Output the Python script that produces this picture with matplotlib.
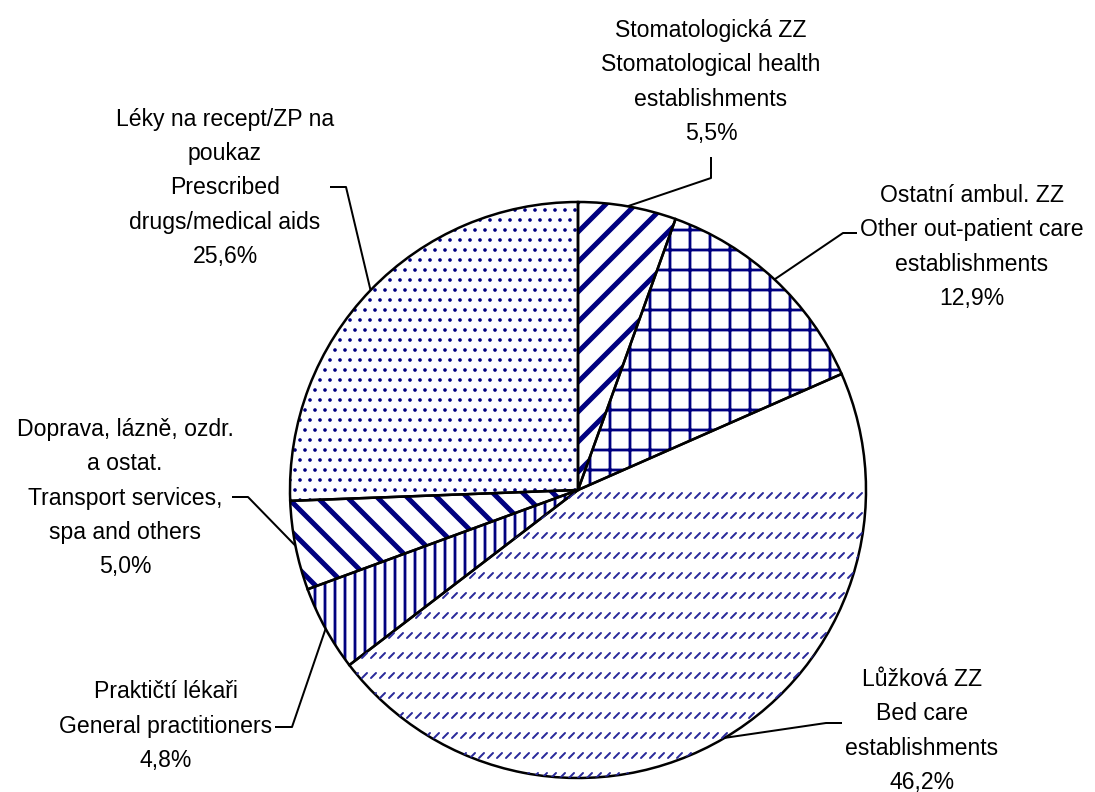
import numpy as np
import matplotlib
matplotlib.use("Agg")
import matplotlib.pyplot as plt
from matplotlib.collections import LineCollection

# data (shares in %) - order clockwise from 12 o'clock
labels_cz = ["Stomatologická ZZ", "Ostatní ambul. ZZ", "Lůžková ZZ",
             "Praktičtí lékaři", "Doprava, lázně, ozdr.\na ostat.",
             "Léky na recept/ZP na\npoukaz"]
labels_en = ["Stomatological health\nestablishments",
             "Other out-patient care\nestablishments",
             "Bed care\nestablishments",
             "General practitioners",
             "Transport services,\nspa and others",
             "Prescribed\ndrugs/medical aids"]
shares = [5.5, 12.9, 46.2, 4.8, 5.0, 25.6]

# hatch unit = dpi pixels, so dpi 360 lets the hatch spacings match
DPI = 360
W, H = 1095, 792


def pt(pxs):
    return pxs * 72.0 / DPI


NAVY = "#000080"
hatches = ["////", "+++", None, "||||||", "\\\\\\\\", "......"]
hatch_lw = [5.0, 2.8, 0, 2.8, 5.0, 1.6]   # px

# layout (image pixel coords, y down)
cx, cy, R = 578, 490, 288
text_pos = [(711, 82), (972, 247), (922, 731), (166, 726), (125, 498), (225, 188)]
leader_pts = [
    [(711, 157), (711, 178)],
    [(857, 233), (843, 233)],
    [(842, 723), (826, 723)],
    [(275, 727), (292, 727)],
    [(232, 497), (248, 497)],
    [(330, 187), (346, 187)],
]

fig = plt.figure(figsize=(W / DPI, H / DPI), dpi=DPI)
ax = fig.add_axes([0, 0, 1, 1])

plt.rcParams["font.family"] = ["Liberation Sans", "DejaVu Sans"]

# hatched fills
wedges, _ = ax.pie(shares, center=(cx, H - cy), radius=R, startangle=90,
                   counterclock=False, colors=["white"] * 6,
                   wedgeprops=dict(edgecolor=NAVY, linewidth=0), frame=True)
for w, h, lw in zip(wedges, hatches, hatch_lw):
    if h:
        w.set_hatch(h)
        if hasattr(w, "set_hatch_linewidth"):
            w.set_hatch_linewidth(pt(lw))

# bed care texture: rows of short diagonal dashes
bed = wedges[2]
segs = []
for yy in np.arange(H - cy - R, H - cy + 10, 20.0):
    for xx in np.arange(cx - R, cx + R, 9.0):
        segs.append([(xx, yy), (xx + 5, yy + 5)])
lc = LineCollection(segs, colors="#2a2a9a", linewidths=pt(2.0), capstyle="round")
ax.add_collection(lc)
lc.set_clip_path(bed)

# black outlines
outl, _ = ax.pie(shares, center=(cx, H - cy), radius=R, startangle=90,
                 counterclock=False, colors=["none"] * 6,
                 wedgeprops=dict(edgecolor="black", linewidth=pt(2.5), fill=False),
                 frame=True)
ax.set_xlim(0, W)
ax.set_ylim(0, H)
ax.set_aspect("equal")
ax.axis("off")

# labels + leader lines
theta0 = 90.0
cum = 0.0
for i, s in enumerate(shares):
    mid = np.deg2rad(theta0 - (cum + s / 2) * 3.6)
    cum += s
    ex, ey = cx + R * np.cos(mid), H - cy + R * np.sin(mid)
    txt = labels_cz[i] + "\n" + labels_en[i] + "\n" + ("%.1f%%" % s).replace(".", ",")
    tx, ty = text_pos[i]
    ax.text(tx, H - ty, txt, ha="center", va="center", multialignment="center",
            fontsize=pt(23), linespacing=1.62, color="black")
    p = leader_pts[i]
    xs = [p[0][0], p[1][0], ex]
    ys = [H - p[0][1], H - p[1][1], ey]
    ax.plot(xs, ys, color="black", lw=pt(2.0), solid_capstyle="butt")

fig.savefig("out.png", dpi=DPI)
